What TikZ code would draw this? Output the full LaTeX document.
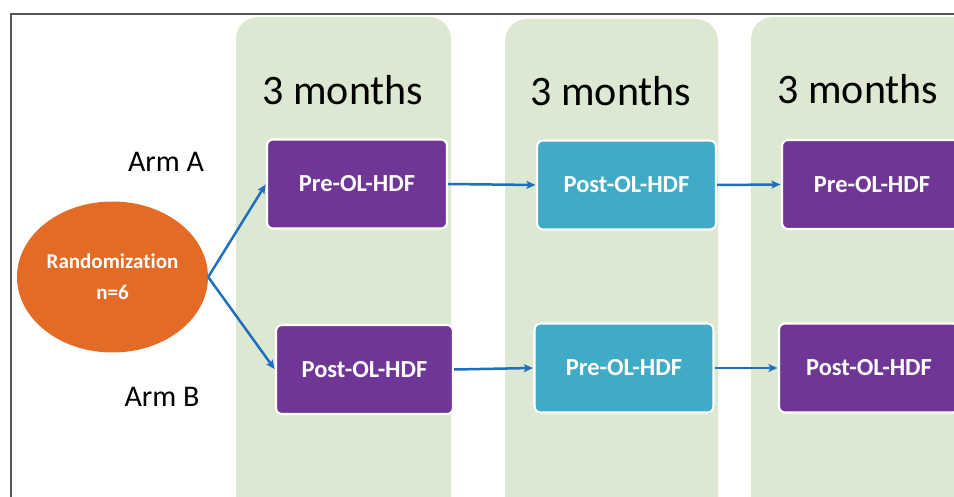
\documentclass[tikz,border=0pt]{standalone}
\usepackage{fontspec}
\setmainfont{Carlito}[Ligatures={NoCommon}]
\usetikzlibrary{arrows.meta,shapes.geometric}

\definecolor{phasegreen}{HTML}{DDE8D2}
\definecolor{armpurple}{HTML}{703696}
\definecolor{armcyan}{HTML}{40ABC6}
\definecolor{randorange}{HTML}{E36B25}
\definecolor{flowblue}{HTML}{1E6FBE}
\definecolor{framegray}{HTML}{555555}

\tikzset{
  phase/.style={fill=phasegreen, draw=none, rounded corners=22pt},
  armbox/.style={draw=white, line width=2.2pt, rounded corners=6pt,
    text=white, font=\bfseries\fontsize{24.5}{29}\selectfont,
    minimum width=#1, minimum height=89pt, inner sep=0pt},
  purplebox/.style={armbox=180pt, fill=armpurple},
  cyanbox/.style={armbox=179pt, fill=armcyan},
  period/.style={font=\fontsize{42}{50}\selectfont, text=black, inner sep=0pt},
  armlabel/.style={font=\fontsize{30}{36}\selectfont, text=black, inner sep=0pt},
  flow/.style={draw=flowblue, line width=2.5pt,
    -{Stealth[length=9pt,width=8pt,inset=2pt]}, shorten >=0.5pt},
}

\begin{document}
\begin{tikzpicture}[x=1pt, y=-1pt]
  \useasboundingbox (0,0) rectangle (954,497);
  \begin{scope}
    \clip (0,0) rectangle (954,497);
    % three treatment periods
    \path[phase] (236,17) rectangle (451,520);
    \path[phase] (505,19) rectangle (718,520);
    \path[phase] (751,17) rectangle (990,520);
    % outer frame
    \draw[framegray, line width=1.5pt] (11,520) -- (11,14) -- (990,14);

    \node[period] (t1) at (343,90) {3 months};
    \node[period] (t2) at (611,91) {3 months};
    \node[period] (t3) at (858,89) {3 months};

    \node[armlabel] (armA) at (166,162) {Arm A};
    \node[armlabel] (armB) at (162,397) {Arm B};

    \node[ellipse, fill=randorange, minimum width=191pt, minimum height=151pt,
      inner sep=0pt, text=white, align=center,
      font=\bfseries\fontsize{21}{31}\selectfont] (rand) at (112.5,277)
      {Randomization\\n=6};

    % arm A sequence
    \node[purplebox] (a1) at (357,184) {Pre-OL-HDF};
    \node[cyanbox]   (a2) at (626.5,185) {Post-OL-HDF};
    \node[purplebox] (a3) at (872,184.5) {Pre-OL-HDF};
    % arm B sequence
    \node[purplebox, minimum width=177pt] (b1) at (364.5,369.5) {Post-OL-HDF};
    \node[cyanbox]   (b2) at (624,368) {Pre-OL-HDF};
    \node[purplebox] (b3) at (869,368) {Post-OL-HDF};

    \draw[flow] (rand.east) -- (a1.west);
    \draw[flow] (rand.east) -- (b1.west);
    \draw[flow] (a1.east) -- (a2.west);
    \draw[flow] (a2.east) -- (a3.west);
    \draw[flow] (b1.east) -- (b2.west);
    \draw[flow] (b2.east) -- (b3.west);
  \end{scope}
\end{tikzpicture}
\end{document}
